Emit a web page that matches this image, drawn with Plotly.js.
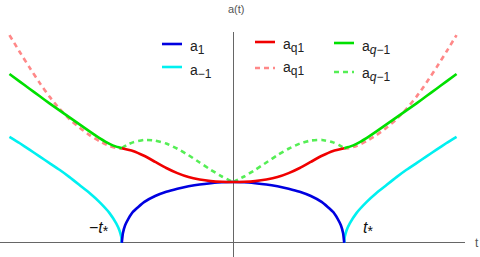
<!DOCTYPE html>
<html>
<head>
<meta charset="utf-8">
<script src="https://cdn.plot.ly/plotly-3.0.1.min.js"></script>
<style>html,body{margin:0;padding:0;background:#fff;}#plot{width:480px;height:257px;}</style>
</head>
<body>
<div id="plot"></div>
<script>
// ---- data (t in units of t*, a in units of a(0)) ----
const tBlue = [-1.0,-0.99,-0.97,-0.94,-0.9,-0.8,-0.7,-0.6,-0.5,-0.4,-0.3,-0.2,-0.1,0,
               0.1,0.2,0.3,0.4,0.5,0.6,0.7,0.8,0.9,0.94,0.97,0.99,1.0];
const a1 = [0,0.16,0.29,0.40,0.51,0.67,0.77,0.84,0.89,0.93,0.96,0.98,0.995,1.0,
            0.995,0.98,0.96,0.93,0.89,0.84,0.77,0.67,0.51,0.40,0.29,0.16,0];
const tIn = [-1.0,-0.9,-0.8,-0.7,-0.6,-0.5,-0.4,-0.3,-0.2,-0.1,0,
             0.1,0.2,0.3,0.4,0.5,0.6,0.7,0.8,0.9,1.0];
const aq1In = [1.555,1.51,1.43,1.33,1.23,1.145,1.08,1.04,1.015,1.003,1.0,
               1.003,1.015,1.04,1.08,1.145,1.23,1.33,1.43,1.51,1.555];
const tInL = [-1.0,-0.95,-0.9,-0.8,-0.7,-0.6,-0.5,-0.4,-0.3,-0.2,-0.1,0];
const tInR = [0,0.1,0.2,0.3,0.4,0.5,0.6,0.7,0.8,0.9,0.95,1.0];
const aqm1InL = [1.555,1.61,1.65,1.69,1.68,1.63,1.545,1.44,1.32,1.2,1.09,1.0];
const aqm1InR = [1.0,1.09,1.2,1.32,1.44,1.545,1.63,1.68,1.69,1.65,1.61,1.555];

const tOutL = [-2.01,-1.92,-1.83,-1.74,-1.65,-1.56,-1.47,-1.38,-1.29,-1.20,-1.11,-1.05,-1.02,-1.005,-1.0];
const tOutR = [1.0,1.005,1.02,1.05,1.11,1.20,1.29,1.38,1.47,1.56,1.65,1.74,1.83,1.92,2.01];
const am1L = [1.74,1.64,1.53,1.42,1.31,1.20,1.08,0.95,0.82,0.67,0.49,0.32,0.20,0.10,0];
const am1R = [0,0.10,0.20,0.32,0.49,0.67,0.82,0.95,1.08,1.20,1.31,1.42,1.53,1.64,1.74];
const aqm1OutL = [2.77,2.65,2.53,2.41,2.29,2.175,2.06,1.945,1.83,1.72,1.625,1.58,1.565,1.557,1.555];
const aqm1OutR = [1.555,1.557,1.565,1.58,1.625,1.72,1.83,1.945,2.06,2.175,2.29,2.41,2.53,2.65,2.77];
const aq1OutL = [3.41,3.14,2.88,2.63,2.40,2.20,2.03,1.89,1.77,1.67,1.59,1.56,1.55,1.545,1.545];
const aq1OutR = [1.545,1.545,1.55,1.56,1.59,1.67,1.77,1.89,2.03,2.20,2.40,2.63,2.88,3.14,3.41];

const sub = (s, fs) => '<sub><span style="font-size:' + (fs || 12) + 'px">' + s + '</span></sub>';
const names = ['a' + sub('1'), 'a' + sub('−1'), 'a' + sub('q1'), 'a' + sub('<i>q</i>−1'),
               'a' + sub('q1'), 'a' + sub('<i>q</i>−1')];
const colors = ['#0000e0','#00f0f0','#f00000','#00e000','#ff8888','#55ee55'];

// ---- plotting ----
const W = 465, H = 225, TOP = 32;
const px = x => x / W;
const py = y => (TOP + H - y) / H;

function ln(x, y, c, dash, sm) {
  return {x: x, y: y, mode: 'lines', type: 'scatter', showlegend: false, hoverinfo: 'skip',
          line: {color: c, width: 2.6, shape: 'spline', smoothing: sm || 0.5, dash: dash || 'solid'}};
}
const traces = [
  ln(tOutL, aq1OutL, colors[4], '5px,4px'),
  ln(tOutR, aq1OutR, colors[4], '5px,4px'),
  ln(tInL, aqm1InL, colors[5], '5px,4px'),
  ln(tInR, aqm1InR, colors[5], '5px,4px'),
  ln(tOutL, am1L, colors[1], null, 0.4),
  ln(tOutR, am1R, colors[1], null, 0.4),
  ln(tBlue, a1, colors[0], null, 0.4),
  ln(tIn, aq1In, colors[2]),
  ln(tOutL, aqm1OutL, colors[3]),
  ln(tOutR, aqm1OutR, colors[3])
];

// manual legend (three columns)
const leg = [
  {x0:162, y:44, ty:47, dash:'solid', i:0},
  {x0:162, y:67, ty:71, dash:'solid', i:1},
  {x0:255, y:42, ty:45, dash:'solid', i:2},
  {x0:334, y:43, ty:47, dash:'solid', i:3},
  {x0:255, y:68, ty:68, dash:'dash', i:4},
  {x0:334, y:72, ty:74, dash:'dash', i:5}
];
const FS = 'Liberation Sans, Arial, sans-serif';
const shapes = leg.map(e => ({type:'line', xref:'paper', yref:'paper',
  x0: px(e.x0), x1: px(e.x0 + 20), y0: py(e.y), y1: py(e.y),
  line: {color: colors[e.i], width: 2.6, dash: e.dash === 'dash' ? '5px,4px' : 'solid'}}));
const annotations = leg.map(e => ({xref:'paper', yref:'paper', x: px(e.x0 + 26), y: py(e.ty),
  xanchor:'left', yanchor:'middle', showarrow:false, text: names[e.i],
  font:{family:FS, size:14, color:'#222'}}));
annotations.push(
  {xref:'paper', yref:'paper', x: px(236.5), y: py(9), xanchor:'center', yanchor:'middle',
   showarrow:false, text:'a(t)', font:{family:FS, size:11, color:'#555'}},
  {xref:'paper', yref:'paper', x: px(477), y: py(243), xanchor:'center', yanchor:'middle',
   showarrow:false, text:'t', font:{family:FS, size:12, color:'#555'}},
  {xref:'paper', yref:'paper', x: px(87), y: py(229), xanchor:'left', yanchor:'middle', showarrow:false,
   text:'−<i>t</i>' + sub('*', 14), font:{family:FS, size:16, color:'#111'}},
  {xref:'paper', yref:'paper', x: px(361), y: py(229), xanchor:'left', yanchor:'middle', showarrow:false,
   text:'<i>t</i>' + sub('*', 14), font:{family:FS, size:16, color:'#111'}}
);

const axis = {showgrid:false, showticklabels:false, ticks:'', showline:false,
              zeroline:true, zerolinecolor:'#666', zerolinewidth:1, fixedrange:true};
const layout = {
  width:480, height:257, margin:{l:0, r:15, t:TOP, b:0}, paper_bgcolor:'#fff', plot_bgcolor:'#fff',
  xaxis: Object.assign({range:[-2.095, 2.086]}, axis),
  yaxis: Object.assign({range:[-0.23, 3.46]}, axis),
  shapes: shapes, annotations: annotations, showlegend:false
};
Plotly.newPlot('plot', traces, layout, {displayModeBar:false, staticPlot:true});
</script>
</body>
</html>
